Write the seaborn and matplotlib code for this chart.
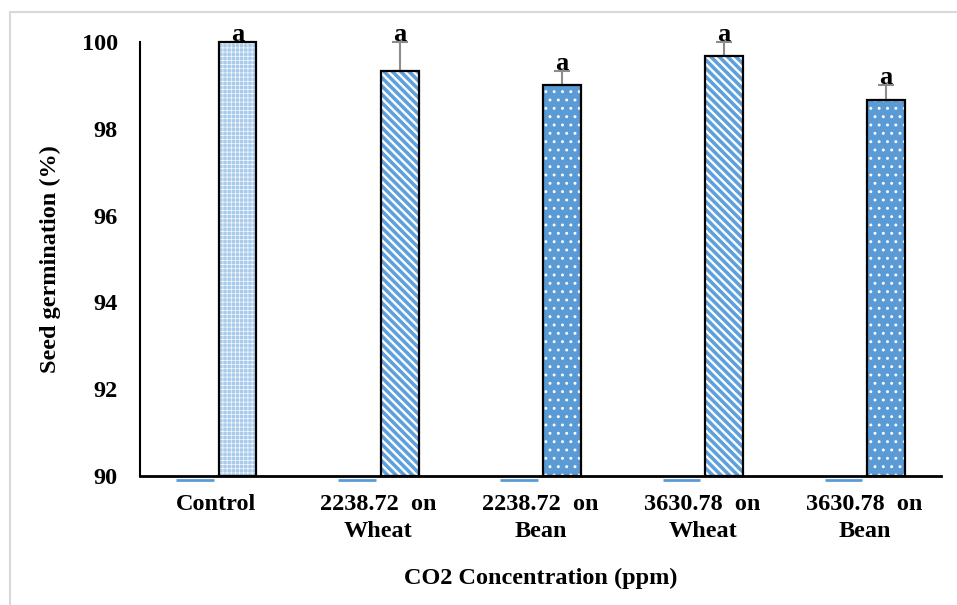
import numpy as np
import pandas as pd
import seaborn as sns
import matplotlib.pyplot as plt
from matplotlib.patches import Rectangle
from matplotlib.transforms import offset_copy

# data
categories = ["Control", "2238.72  on\nWheat", "2238.72  on\nBean",
              "3630.78  on\nWheat", "3630.78  on\nBean"]
germ_blank = [0, 0, 0, 0, 0]           # empty first series (sits at the axis)
germ_mean = [100.0, 99.33, 99.0, 99.67, 98.67]
germ_err = [0.0, 0.67, 0.33, 0.33, 0.33]
letters = ["a", "a", "a", "a", "a"]
y_ticks = [90, 92, 94, 96, 98, 100]

df = pd.DataFrame({
    "cat": categories * 2,
    "series": ["blank"] * len(categories) + ["mean"] * len(categories),
    "val": germ_blank + germ_mean,
})

sns.set_theme(style="white")
plt.rcParams["font.family"] = ["Liberation Serif", "DejaVu Serif"]
plt.rcParams["font.weight"] = "bold"
plt.rcParams["text.color"] = "black"
plt.rcParams["xtick.color"] = "black"
plt.rcParams["ytick.color"] = "black"
plt.rcParams["axes.labelcolor"] = "black"

fig = plt.figure(figsize=(9.57, 6.05), dpi=100)
ax = fig.add_axes([0.1463, 0.213, 0.837, 0.7176])

sns.barplot(data=df, x="cat", y="val", hue="series", hue_order=["blank", "mean"],
            order=categories, width=0.52, gap=0.1, errorbar=None,
            palette=["#5b9bd5", "#5b9bd5"], ax=ax, legend=False)

ax.set_ylim(y_ticks[0], y_ticks[-1])
ax.set_yticks(y_ticks)

# bar fills: (face, hatch, hatch width)
styles = [("#a9cbeb", "++++", 0.45),
          ("#5ea0dc", "\\\\\\\\", 1.7),
          ("#5b9bd5", "..", 0.9),
          ("#5ea0dc", "\\\\\\\\", 1.7),
          ("#5b9bd5", "..", 0.9)]

blank_bars = ax.containers[0]
mean_bars = ax.containers[1]
base = ax.get_ylim()[0]
line_tr = offset_copy(ax.transData, fig=fig, x=0, y=-2.5, units="points")
for p in blank_bars:
    x0 = p.get_x()
    ax.plot([x0, x0 + p.get_width()], [base, base], color="#5b9bd5", lw=2,
            transform=line_tr, clip_on=False, zorder=1, solid_capstyle="butt")
    p.set_visible(False)

xs = []
for p, (fc, hatch, hlw) in zip(mean_bars, styles):
    p.set_facecolor(fc)
    p.set_edgecolor("white")
    p.set_hatch(hatch)
    if hasattr(p, "set_hatch_linewidth"):
        p.set_hatch_linewidth(hlw)
    p.set_linewidth(0)
    # black outline drawn over the hatched bar, from the axis floor up
    y0 = max(p.get_y(), base)
    ax.add_patch(Rectangle((p.get_x(), y0), p.get_width(), p.get_y() + p.get_height() - y0,
                           fill=False, edgecolor="black", lw=1.6, zorder=3,
                           clip_on=False))
    xs.append(p.get_x() + p.get_width() / 2)

xs = np.array(xs)
ax.errorbar(xs, germ_mean, yerr=[np.zeros(len(germ_err)), germ_err], fmt="none",
            ecolor="#8c8c8c", elinewidth=1.5, capsize=6, capthick=1.5,
            zorder=0.5, clip_on=False)

for x, m, e, lab in zip(xs, germ_mean, germ_err, letters):
    ax.annotate(lab, (x, m + e), xytext=(0, 1), textcoords="offset points",
                ha="center", va="baseline", fontsize=19, fontweight="bold",
                annotation_clip=False)

for s in ["top", "right"]:
    ax.spines[s].set_visible(False)
ax.spines["left"].set_color("black")
ax.spines["left"].set_linewidth(1.5)
ax.spines["bottom"].set_color("black")
ax.spines["bottom"].set_linewidth(2)
ax.spines["bottom"].set_zorder(4)

ax.tick_params(axis="both", length=0, labelsize=17.5)
ax.tick_params(axis="y", pad=16)
ax.tick_params(axis="x", pad=13)
for t in ax.get_xticklabels() + ax.get_yticklabels():
    t.set_fontweight("bold")
    t.set_linespacing(1.35)

ax.set_xlabel("CO2 Concentration (ppm)", fontsize=17.5, fontweight="bold", labelpad=19)
ax.set_ylabel("Seed germination (%)", fontsize=17.5, fontweight="bold", labelpad=15)

# light grey chart frame, cut off at right and bottom like the source
fig.add_artist(Rectangle((10 / 957, -0.1), 1.2, 1 - 12 / 605 + 0.1,
                         transform=fig.transFigure, fill=False,
                         edgecolor="#d9d9d9", lw=1.5))

fig.savefig("out.png", dpi=100)
